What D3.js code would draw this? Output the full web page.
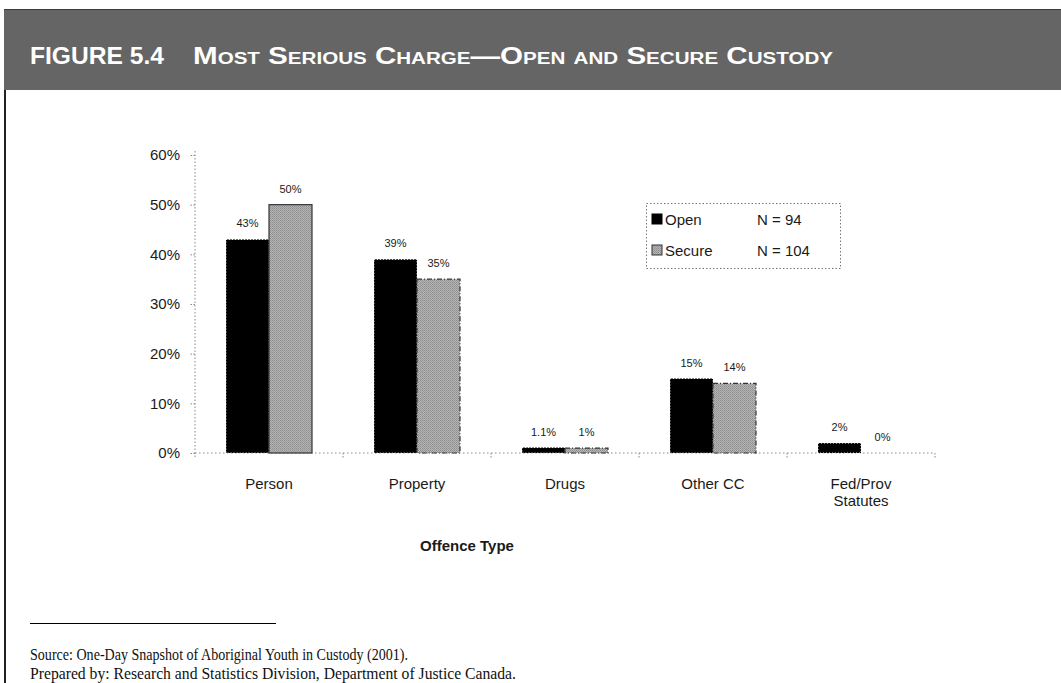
<!DOCTYPE html>
<html>
<head>
<meta charset="utf-8">
<script src="https://cdn.jsdelivr.net/npm/d3@7/dist/d3.min.js"></script>
<style>
  html, body { margin: 0; padding: 0; background: #fff; }
  svg { display: block; }
</style>
</head>
<body>
<svg id="fig" width="1061" height="683"></svg>
<script>
// Offence categories (display lines) and percentages by custody type
const categories = ["Person", "Property", "Drugs", "Other CC", "Fed/Prov\nStatutes"];
const openValues = [43, 39, 1.1, 15, 2];
const secureValues = [50, 35, 1, 14, 0];
const openLabels = ["43%", "39%", "1.1%", "15%", "2%"];
const secureLabels = ["50%", "35%", "1%", "14%", "0%"];
const seriesNames = ["Open", "Secure"];
const seriesCounts = ["N = 94", "N = 104"];
const yTicks = [0, 10, 20, 30, 40, 50, 60];

const svg = d3.select("#fig");

// Header band
svg.append("rect").attr("x", 4).attr("y", 9).attr("width", 1057).attr("height", 81)
  .attr("fill", "#656565");
svg.append("line").attr("x1", 4).attr("x2", 1061).attr("y1", 9.5).attr("y2", 9.5)
  .attr("stroke", "#3a3a3a").attr("stroke-width", 1);
// Left frame rule
svg.append("line").attr("x1", 5).attr("x2", 5).attr("y1", 90).attr("y2", 683)
  .attr("stroke", "#222").attr("stroke-width", 2);

svg.append("text").attr("x", 30).attr("y", 64)
  .attr("font-family", "Liberation Sans, Arial, sans-serif").attr("font-weight", "bold")
  .attr("font-size", 23).attr("fill", "#fff")
  .attr("textLength", 134).attr("lengthAdjust", "spacingAndGlyphs")
  .text("FIGURE 5.4");
svg.append("text").attr("x", 193).attr("y", 64)
  .attr("font-family", "Liberation Sans, Arial, sans-serif").attr("font-weight", "bold")
  .attr("font-size", 23).attr("fill", "#fff").style("font-variant", "small-caps")
  .attr("textLength", 640).attr("lengthAdjust", "spacingAndGlyphs")
  .text("Most Serious Charge\u2014Open and Secure Custody");

// Chart area
const x0 = 195, x1 = 935, yBase = 453, yTop = 155;
const x = d3.scaleBand().domain(d3.range(categories.length)).range([x0, x1]).paddingInner(0).paddingOuter(0);
const y = d3.scaleLinear().domain([0, 60]).range([yBase, yTop]);
const barW = 43;

const defs = svg.append("defs");
const pat = defs.append("pattern").attr("id", "grayTex").attr("patternUnits", "userSpaceOnUse")
  .attr("width", 2).attr("height", 2);
pat.append("rect").attr("width", 2).attr("height", 2).attr("fill", "#b4b4b4");
pat.append("rect").attr("width", 1).attr("height", 1).attr("fill", "#8e8e8e");
pat.append("rect").attr("x", 1).attr("y", 1).attr("width", 1).attr("height", 1).attr("fill", "#9a9a9a");

const chart = svg.append("g");
const font = "Liberation Sans, Arial, sans-serif";
const ink = "#1a1a1a";

// Y axis (dotted)
const yAxis = d3.axisLeft(y).tickValues(yTicks).tickFormat(d => d + "%").tickSize(5).tickPadding(10);
const ya = chart.append("g").attr("transform", `translate(${x0},0)`).call(yAxis);
ya.select(".domain").attr("stroke", "#888").attr("stroke-dasharray", "1.5,2").attr("d", `M0,${yTop - 4}V${yBase + 6}`);
ya.selectAll(".tick line").attr("stroke", "#888").attr("stroke-dasharray", "1.5,1.5");
ya.selectAll(".tick text").attr("font-family", font).attr("font-size", 15).attr("fill", ink);

// X axis baseline with category-boundary ticks
const bounds = d3.range(categories.length + 1).map(i => x0 + i * x.bandwidth());
chart.append("line").attr("x1", x0).attr("x2", x1).attr("y1", yBase).attr("y2", yBase)
  .attr("stroke", "#888").attr("stroke-dasharray", "1.5,2.5");
chart.selectAll(".xt").data(bounds.slice(1)).join("line")
  .attr("x1", d => d).attr("x2", d => d).attr("y1", yBase).attr("y2", yBase + 5)
  .attr("stroke", "#888").attr("stroke-dasharray", "1.5,1.5");

// Category labels
categories.forEach((c, i) => {
  const lines = c.split("\n");
  const t = chart.append("text").attr("x", x(i) + x.bandwidth() / 2).attr("y", 489)
    .attr("text-anchor", "middle").attr("font-family", font).attr("font-size", 15).attr("fill", ink);
  lines.forEach((l, k) => t.append("tspan").attr("x", x(i) + x.bandwidth() / 2).attr("dy", k ? 17 : 0).text(l));
});

chart.append("text").attr("x", 467).attr("y", 551).attr("text-anchor", "middle")
  .attr("font-family", font).attr("font-weight", "bold").attr("font-size", 15).attr("fill", ink)
  .text("Offence Type");

// Bars
const center = i => x(i) + x.bandwidth() / 2;
chart.selectAll(".open").data(openValues).join("rect")
  .attr("x", (d, i) => center(i) - barW).attr("y", d => y(d))
  .attr("width", barW).attr("height", d => yBase - y(d))
  .attr("fill", "#000").attr("stroke", "#fff").attr("stroke-width", 1).attr("stroke-dasharray", "1,2");
chart.selectAll(".secure").data(secureValues).join("rect")
  .attr("x", (d, i) => center(i)).attr("y", d => y(d))
  .attr("width", barW).attr("height", d => yBase - y(d))
  .attr("fill", "url(#grayTex)").attr("stroke", "#333").attr("stroke-width", 1.2)
  .attr("stroke-dasharray", (d, i) => i === 0 ? null : "5,2,1,2");

// Value labels
chart.selectAll(".ol").data(openValues).join("text")
  .attr("x", (d, i) => center(i) - barW / 2).attr("y", d => y(d) - 12)
  .attr("text-anchor", "middle").attr("font-family", font).attr("font-size", 11).attr("fill", ink)
  .text((d, i) => openLabels[i]);
chart.selectAll(".sl").data(secureValues).join("text")
  .attr("x", (d, i) => center(i) + barW / 2).attr("y", d => y(d) - 12)
  .attr("text-anchor", "middle").attr("font-family", font).attr("font-size", 11).attr("fill", ink)
  .text((d, i) => secureLabels[i]);

// Legend
const lg = chart.append("g");
lg.append("rect").attr("x", 646.5).attr("y", 203.5).attr("width", 194).attr("height", 65)
  .attr("fill", "#fff").attr("stroke", "#777").attr("stroke-dasharray", "1.5,2");
seriesNames.forEach((s, i) => {
  const yy = 219 + i * 31;
  lg.append("rect").attr("x", 652).attr("y", yy - 5).attr("width", 10).attr("height", 10)
    .attr("fill", i === 0 ? "#000" : "url(#grayTex)").attr("stroke", i === 0 ? "#000" : "#333");
  lg.append("text").attr("x", 665).attr("y", yy + 5.5).attr("font-family", font).attr("font-size", 15)
    .attr("fill", ink).text(s);
  lg.append("text").attr("x", 757).attr("y", yy + 5.5).attr("font-family", font).attr("font-size", 15)
    .attr("fill", ink).text(seriesCounts[i]);
});

// Source notes
svg.append("line").attr("x1", 30).attr("x2", 276).attr("y1", 623.5).attr("y2", 623.5)
  .attr("stroke", "#000").attr("stroke-width", 1);
svg.append("text").attr("x", 30).attr("y", 660).attr("font-family", "Liberation Serif, serif")
  .attr("font-size", 17).attr("fill", "#111")
  .attr("textLength", 378).attr("lengthAdjust", "spacingAndGlyphs")
  .text("Source: One-Day Snapshot of Aboriginal Youth in Custody (2001).");
svg.append("text").attr("x", 30).attr("y", 679).attr("font-family", "Liberation Serif, serif")
  .attr("font-size", 17).attr("fill", "#111")
  .attr("textLength", 486).attr("lengthAdjust", "spacingAndGlyphs")
  .text("Prepared by: Research and Statistics Division, Department of Justice Canada.");
</script>
</body>
</html>
